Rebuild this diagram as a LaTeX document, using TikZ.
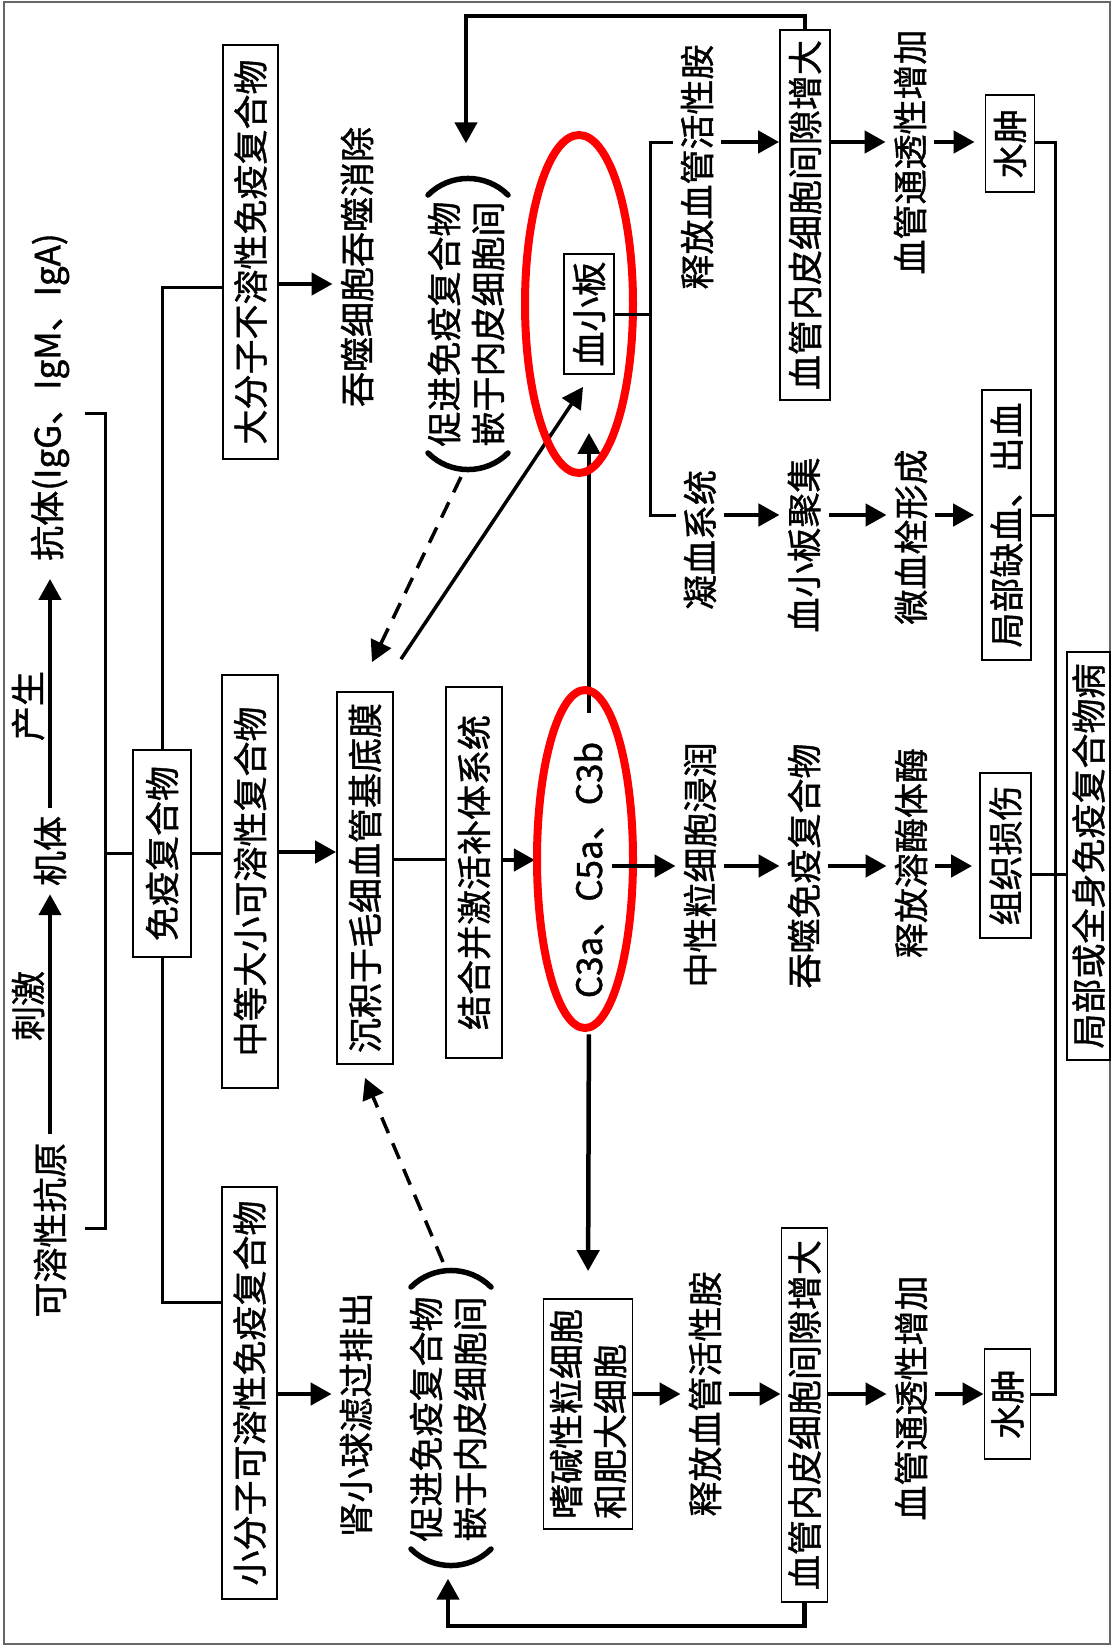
\documentclass[tikz,border=0pt]{standalone}
\usepackage{fontspec}
\setmainfont{Noto Sans CJK SC}[FakeBold=1.2]
\usetikzlibrary{arrows.meta,calc}

\tikzset{
  every node/.style={rotate=90, font=\fontsize{35pt}{44pt}\selectfont},
  box/.style={draw, line width=1.8pt, inner sep=0pt, minimum height=50pt},
  lbl/.style={inner sep=8pt},
  ln/.style={line width=3pt},
  arr/.style={line width=4.5pt, -{Triangle[length=21pt,width=22pt]}},
  dsh/.style={arr, line width=3.5pt, dash pattern=on 17pt off 11pt},
  ring/.style={draw=red, line width=8pt},
  paren/.style={line width=5.5pt, line cap=round},
}

\begin{document}
\begin{tikzpicture}[x=1pt,y=1pt]
\useasboundingbox (0,0) rectangle (1112,-1652);
\draw[gray!80!black, line width=2.5pt] (4,-2) rectangle (1110,-1644);

% row coordinates
\coordinate (r0) at (0,-287);
\coordinate (rb) at (0,-1302);
\coordinate (ra) at (0,-284);
\coordinate (rm) at (0,-852);
\coordinate (rs) at (0,-1394);
\coordinate (rc) at (0,-859);
\coordinate (rk) at (0,-860);
\coordinate (r1) at (0,-142);
\coordinate (r2) at (0,-515);
\coordinate (r3) at (0,-866);
\coordinate (rt) at (0,-874);
\coordinate (r4) at (0,-1394);

% antigen -> antibody
\node[lbl] (ag) at (50,-1230) {可溶性抗原};
\node[lbl] (jt) at (50,-851) {机体};
\node[lbl] (kt) at (50,-397) {抗体(IgG、IgM、IgA)};
\node[lbl] (sti) at (28,-1006) {刺激};
\node[lbl] (prd) at (28,-706) {产生};
\draw[arr] (ag.east) -- (jt.west);
\draw[arr, shorten >=10pt] (jt.east) -- (kt.west);

% bracket
\draw[ln] (85,-413) -- (105,-413) -- (105,-1228) -- (85,-1228);
\coordinate (brk) at (105,-853.5);

% immune complexes
\node[box, minimum width=207pt, minimum height=58pt] (imm) at (162,-853.5) {免疫复合物};
\node[box, minimum width=414pt, minimum height=55pt] (big) at (250.5,-252) {大分子不溶性免疫复合物};
\node[box, minimum width=413pt, minimum height=56pt] (mid) at (250,-881.5) {中等大小可溶性复合物};
\node[box, minimum width=412pt, minimum height=55pt] (sml) at (249.5,-1393) {小分子可溶性免疫复合物};
\draw[ln] (brk) -- (imm.north);
\draw[ln] (imm.east) |- (big.north |- r0);
\draw[ln] (imm.west) |- (sml.north |- rb);
\draw[ln] (imm.south) -- (imm.south -| mid.north);

\node[lbl] (phg) at (357,-267) {吞噬细胞吞噬消除};
\node[box, minimum width=372pt, minimum height=56pt] (dep) at (365,-878) {沉积于毛细血管基底膜};
\node[lbl] (glo) at (356,-1415) {肾小球滤过排出};
\draw[arr] (big.south |- ra) -- (phg.north |- ra);
\draw[arr] (mid.south |- rm) -- (dep.north |- rm);
\draw[arr] (sml.south |- rs) -- (glo.north |- rs);

% complement
\node[box, minimum width=371pt, minimum height=56pt] (cmp) at (474,-872.5) {结合并激活补体系统};
\draw[ln] (dep.south |- rc) -- (cmp.north |- rc);
\node[lbl, align=left] (tp) at (466,-324) {促进免疫复合物\\嵌于内皮细胞间};
\node[lbl, align=left] (bp) at (448,-1419) {促进免疫复合物\\嵌于内皮细胞间};
\draw[paren] ($(tp.center)+(-38,-129)$) to[bend right=45] ($(tp.center)+(42,-129)$);
\draw[paren] ($(tp.center)+(-38,129)$) to[bend left=45] ($(tp.center)+(42,129)$);
\draw[paren] ($(bp.center)+(-37,-130)$) to[bend right=45] ($(bp.center)+(43,-130)$);
\draw[paren] ($(bp.center)+(-37,132)$) to[bend left=45] ($(bp.center)+(43,132)$);

\node[lbl] (c3) at (589,-870) {C3a、C5a、C3b};
\node[box, minimum width=120pt, minimum height=50pt] (plt) at (589,-314) {血小板};
\node[box, minimum width=230pt, minimum height=89pt, align=left] (bas) at (588,-1414) {嗜碱性粒细胞\\和肥大细胞};
\draw[arr, shorten >=31pt] (cmp.south |- rk) -- (c3.north |- rk);
\draw[arr, shorten <=21pt, shorten >=58pt] (c3.east) -- (plt.west);
\draw[arr, shorten <=28pt, shorten >=27pt] (c3.west) -- (bas.east);

\draw[dsh] ($(tp.center)+(-5,-153)$) -- ($(dep.east)+(7,29)$);
\draw[dsh] ($(bp.center)+(-5,157)$) -- ($(dep.west)+(0,-13)$);
\draw[arr, line width=3.5pt] ($(dep.east)+(36,32)$) -- ($(plt.west)+(-6,-12)$);

\draw[ring] (585,-859) ellipse [x radius=48, y radius=169];
\draw[ring] (579,-304) ellipse [x radius=54, y radius=169];

% effects
\node[lbl] (rel1) at (697,-167) {释放血管活性胺};
\node[lbl] (clt) at (700,-540) {凝血系统};
\node[lbl] (neu) at (700,-865) {中性粒细胞浸润};
\node[lbl] (rel2) at (705,-1394) {释放血管活性胺};
\node[box, minimum width=370pt, minimum height=50pt] (vt) at (805,-215) {血管内皮细胞间隙增大};
\node[lbl] (pla) at (804,-545) {血小板聚集};
\node[lbl] (eng) at (804,-866) {吞噬免疫复合物};
\node[box, minimum width=374pt, minimum height=46pt] (vb) at (804.5,-1415) {血管内皮细胞间隙增大};
\node[lbl] (per1) at (910,-152) {血管通透性增加};
\node[lbl] (thr) at (911,-537) {微血栓形成};
\node[lbl] (lys) at (911,-853) {释放溶酶体酶};
\node[lbl] (per2) at (911,-1398) {血管通透性增加};
\node[box, minimum width=97pt, minimum height=49pt] (ed1) at (1010,-143.5) {水肿};
\node[box, minimum width=270pt, minimum height=49pt] (isc) at (1006.5,-525) {局部缺血、出血};
\node[box, minimum width=165pt, minimum height=51pt] (tis) at (1005.5,-855.5) {组织损伤};
\node[box, minimum width=110pt, minimum height=46pt] (ed2) at (1007.5,-1404) {水肿};
\node[box, minimum width=408pt, minimum height=43pt] (dis) at (1088.5,-856) {局部或全身免疫复合物病};

\coordinate (jn) at (650,-314);
\draw[ln] (plt.south) -- (jn);
\draw[ln] (rel1.north |- r1) -| (jn) |- (clt.north |- r2);

\draw[arr] (c3.south |- r3) -- (neu.north |- r3);
\draw[arr] (rel1.south |- r1) -- (vt.north |- r1);
\draw[arr] (vt.south |- r1) -- (per1.north |- r1);
\draw[arr, shorten >=10pt] (per1.south |- r1) -- (ed1.north |- r1);
\draw[arr] (clt.south |- r2) -- (pla.north |- r2);
\draw[arr] (pla.south |- r2) -- (thr.north |- r2);
\draw[arr, shorten >=7pt] (thr.south |- r2) -- (isc.north |- r2);
\draw[arr] (neu.south |- r3) -- (eng.north |- r3);
\draw[arr] (eng.south |- r3) -- (lys.north |- r3);
\draw[arr, shorten >=7pt] (lys.south |- r3) -- (tis.north |- r3);
\draw[arr] (bas.south |- r4) -- (rel2.north |- r4);
\draw[arr] (rel2.south |- r4) -- (vb.north |- r4);
\draw[arr] (vb.south |- r4) -- (per2.north |- r4);
\draw[arr] (per2.south |- r4) -- (ed2.north |- r4);

% outcome bus
\coordinate (bt) at (1055,-142);
\coordinate (bb) at (1055,-1394);
\draw[ln] (ed1.south |- r1) -- (bt) -- (bb) -- (ed2.south |- r4);
\draw[ln] (isc.south |- r2) -- (bt |- r2);
\draw[ln] (tis.south |- rt) -- (dis.north |- rt);

% feedback
\draw[arr, shorten >=50pt] (vt.east) -- ++(0,13) -| (tp.east);
\draw[arr, shorten >=29pt] (vb.west) -- ++(0,-23) -| (bp.west);
\end{tikzpicture}
\end{document}
